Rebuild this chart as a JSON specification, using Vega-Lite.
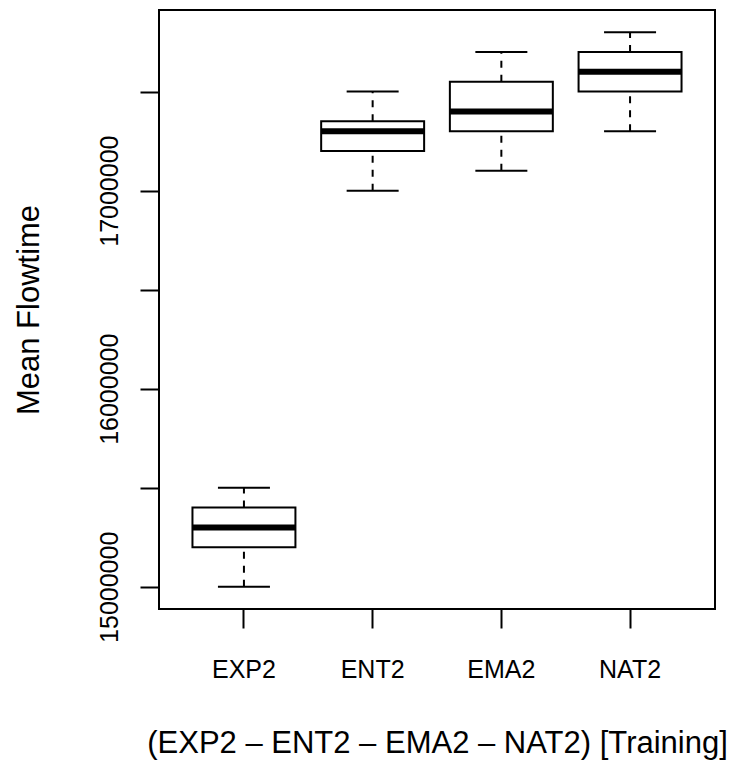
{
  "$schema": "https://vega.github.io/schema/vega-lite/v6.json",
  "width": 556,
  "height": 599,
  "autosize": {"type": "none"},
  "padding": {"left": 159, "top": 10, "right": 19, "bottom": 153},
  "background": "white",
  "data": {
    "values": [
      {"grp": "EXP2", "min": 15000000, "q1": 15200000, "median": 15300000, "q3": 15400000, "max": 15500000},
      {"grp": "ENT2", "min": 17000000, "q1": 17200000, "median": 17300000, "q3": 17350000, "max": 17500000},
      {"grp": "EMA2", "min": 17100000, "q1": 17300000, "median": 17400000, "q3": 17550000, "max": 17700000},
      {"grp": "NAT2", "min": 17300000, "q1": 17500000, "median": 17600000, "q3": 17700000, "max": 17800000}
    ]
  },
  "encoding": {
    "x": {
      "field": "grp",
      "type": "nominal",
      "sort": ["EXP2", "ENT2", "EMA2", "NAT2"],
      "scale": {"type": "band", "paddingInner": 0.2, "paddingOuter": 0.26},
      "axis": {
        "title": "(EXP2 \u2013 ENT2 \u2013 EMA2 \u2013 NAT2) [Training]",
        "domain": false,
        "grid": false,
        "bandPosition": 0.5,
        "ticks": true,
        "tickSize": 19,
        "tickWidth": 2,
        "tickColor": "black",
        "labelAngle": 0,
        "labelFont": "Liberation Sans",
        "labelFontSize": 25,
        "labelColor": "black",
        "labelBaseline": "alphabetic",
        "labelPadding": 49,
        "titleFont": "Liberation Sans",
        "titleFontSize": 31,
        "titleFontWeight": "normal",
        "titleColor": "black",
        "titleBaseline": "alphabetic",
        "titleY": 143
      }
    }
  },
  "layer": [
    {
      "mark": {"type": "rule", "color": "black", "strokeWidth": 2, "strokeDash": [7, 7]},
      "encoding": {
        "y": {
          "field": "min",
          "type": "quantitative",
          "scale": {"domain": [14888000, 17912000], "zero": false, "nice": false},
          "axis": {
            "title": "Mean Flowtime",
            "values": [15000000, 15500000, 16000000, 16500000, 17000000, 17500000],
            "format": "d",
            "labelExpr": "datum.value % 1000000 === 0 ? datum.label : ''",
            "domain": false,
            "grid": false,
            "tickSize": 19,
            "tickWidth": 2,
            "tickColor": "black",
            "labelAngle": 270,
            "labelAlign": "center",
            "labelBaseline": "alphabetic",
            "labelPadding": 23,
            "labelFont": "Liberation Sans",
            "labelFontSize": 25,
            "labelColor": "black",
            "titleFont": "Liberation Sans",
            "titleFontSize": 31,
            "titleFontWeight": "normal",
            "titleColor": "black",
            "titleAngle": 270,
            "titleBaseline": "alphabetic",
            "titleX": -121
          }
        },
        "y2": {"field": "q1"}
      }
    },
    {
      "mark": {"type": "rule", "color": "black", "strokeWidth": 2, "strokeDash": [7, 7]},
      "encoding": {
        "y": {"field": "q3", "type": "quantitative"},
        "y2": {"field": "max"}
      }
    },
    {
      "mark": {"type": "tick", "color": "black", "opacity": 1, "size": 52, "thickness": 2, "orient": "horizontal"},
      "encoding": {"y": {"field": "min", "type": "quantitative"}}
    },
    {
      "mark": {"type": "tick", "color": "black", "opacity": 1, "size": 52, "thickness": 2, "orient": "horizontal"},
      "encoding": {"y": {"field": "max", "type": "quantitative"}}
    },
    {
      "mark": {"type": "bar", "fill": "white", "stroke": "black", "strokeWidth": 2, "opacity": 1},
      "encoding": {
        "y": {"field": "q1", "type": "quantitative"},
        "y2": {"field": "q3"}
      }
    },
    {
      "mark": {"type": "tick", "color": "black", "opacity": 1, "size": 103, "thickness": 6, "orient": "horizontal"},
      "encoding": {"y": {"field": "median", "type": "quantitative"}}
    }
  ],
  "config": {
    "view": {"stroke": "black", "strokeWidth": 2},
    "axis": {"grid": false}
  }
}
